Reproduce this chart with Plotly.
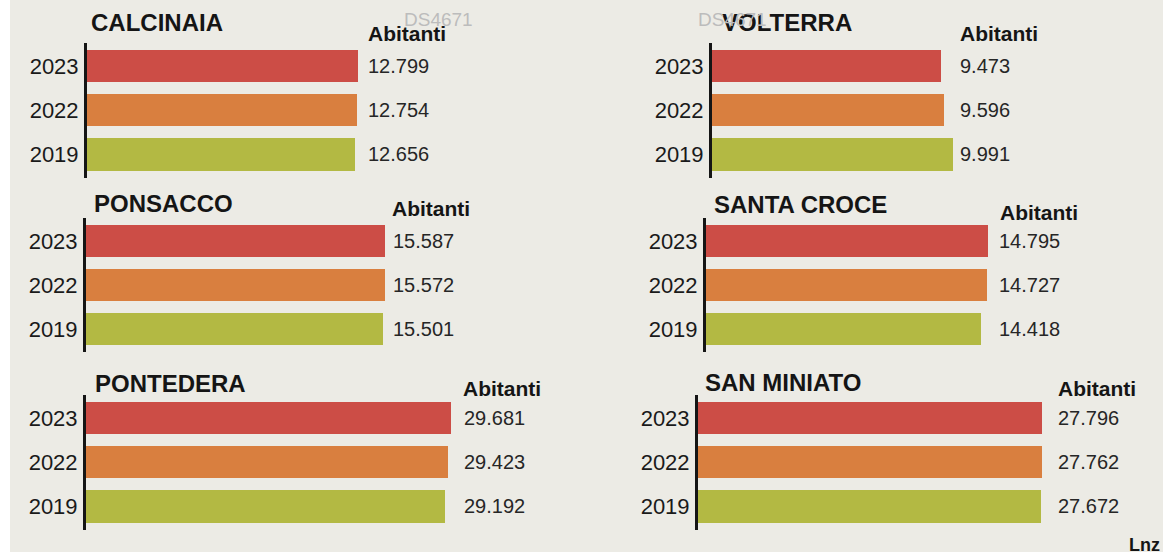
import plotly.graph_objects as go

# ---- data ----
years = ["2023", "2022", "2019"]
cities = ["CALCINAIA", "VOLTERRA", "PONSACCO", "SANTA CROCE", "PONTEDERA", "SAN MINIATO"]
calcinaia = [12799, 12754, 12656]
volterra = [9473, 9596, 9991]
ponsacco = [15587, 15572, 15501]
santa_croce = [14795, 14727, 14418]
pontedera = [29681, 29423, 29192]
san_miniato = [27796, 27762, 27672]
values = [calcinaia, volterra, ponsacco, santa_croce, pontedera, san_miniato]
unit_label = "Abitanti"
watermark = "DS4671"
credit = "Lnz"

year_colors = ["#cc4d46", "#d97f3f", "#b3b943"]

W, H = 1169, 554
BG = "#ecebe5"

# ---- layout geometry (pixels) ----
rows = [(43, 177.5), (218, 352), (395, 529.5)]
panels = [
    dict(x0=87, x1=362.3, xmax=13000, row=0, vx=366, ux=366, uy=34, tx=89, ty=22),
    dict(x0=712, x1=953.6, xmax=10000, row=0, vx=958, ux=958, uy=34, tx=720, ty=22),
    dict(x0=86, x1=392.9, xmax=16000, row=1, vx=391, ux=390, uy=208, tx=92, ty=203),
    dict(x0=706, x1=992.4, xmax=15000, row=1, vx=997, ux=998, uy=212, tx=712, ty=204),
    dict(x0=86, x1=455.3, xmax=30000, row=2, vx=462, ux=461, uy=388, tx=93, ty=383),
    dict(x0=698, x1=1044.9, xmax=28000, row=2, vx=1056, ux=1056, uy=388, tx=703, ty=382),
]

VAL_FONT = "Liberation Sans, Arial, sans-serif"
LBL_FONT = "Liberation Sans, Arial, sans-serif"


def fmt(v):
    return f"{v:,}".replace(",", ".")


fig = go.Figure()
annotations = []
layout_axes = {}

for i, (city, vals, p) in enumerate(zip(cities, values, panels)):
    n = i + 1
    xa = "x" if n == 1 else f"x{n}"
    ya = "y" if n == 1 else f"y{n}"
    fig.add_trace(go.Bar(
        x=vals, y=years, orientation="h",
        marker=dict(color=year_colors, line=dict(width=0)),
        width=0.725, xaxis=xa, yaxis=ya, hoverinfo="x+y", showlegend=False,
    ))
    top, bot = rows[p["row"]]
    xkey = "xaxis" if n == 1 else f"xaxis{n}"
    ykey = "yaxis" if n == 1 else f"yaxis{n}"
    layout_axes[xkey] = dict(
        domain=[p["x0"] / W, p["x1"] / W], range=[0, p["xmax"]],
        visible=False, anchor=ya, fixedrange=True,
    )
    layout_axes[ykey] = dict(
        domain=[1 - bot / H, 1 - top / H], anchor=xa,
        type="category", categoryorder="array", categoryarray=years,
        range=[2.52, -0.52], showline=True, linewidth=3, linecolor="#151515",
        showgrid=False, zeroline=False, ticks="", ticklabelstandoff=1,
        tickfont=dict(family=LBL_FONT, size=22, color="#1a1a1a"), fixedrange=True,
    )
    annotations.append(dict(
        text=city, x=p["tx"] / W, y=1 - p["ty"] / H, xref="paper", yref="paper",
        xanchor="left", yanchor="middle", showarrow=False,
        font=dict(family=LBL_FONT, size=24, color="#151515", weight="bold"),
    ))
    annotations.append(dict(
        text=f"<b>{unit_label}</b>", x=p["ux"] / W, y=1 - p["uy"] / H,
        xref="paper", yref="paper", xanchor="left", yanchor="middle", showarrow=False,
        font=dict(family=LBL_FONT, size=21, color="#151515"),
    ))
    for j, v in enumerate(vals):
        annotations.append(dict(
            text=fmt(v), x=p["vx"] / W, xref="paper", y=j, yref=ya,
            xanchor="left", yanchor="middle", showarrow=False,
            font=dict(family=VAL_FONT, size=20, color="#262626"),
        ))

for wx in (402, 696):
    annotations.append(dict(
        text=watermark, x=wx / W, y=1 - 19 / H, xref="paper", yref="paper",
        xanchor="left", yanchor="middle", showarrow=False,
        font=dict(family=LBL_FONT, size=19, color="#bcbcbc"),
    ))
annotations.append(dict(
    text=f"<b>{credit}</b>", x=1162 / W, y=1 - 545 / H, xref="paper", yref="paper",
    xanchor="right", yanchor="middle", showarrow=False,
    font=dict(family=LBL_FONT, size=18, color="#151515"),
))

fig.update_layout(
    width=W, height=H, margin=dict(l=0, r=0, t=0, b=0),
    paper_bgcolor="#ffffff", plot_bgcolor="rgba(0,0,0,0)",
    bargap=0, annotations=annotations, showlegend=False,
    shapes=[dict(type="rect", xref="paper", yref="paper",
                 x0=10 / W, x1=1163 / W, y0=1 - 552 / H, y1=1,
                 fillcolor=BG, line=dict(width=0), layer="below")],
    **layout_axes,
)

fig.write_html("out.html", config={"displayModeBar": False})
